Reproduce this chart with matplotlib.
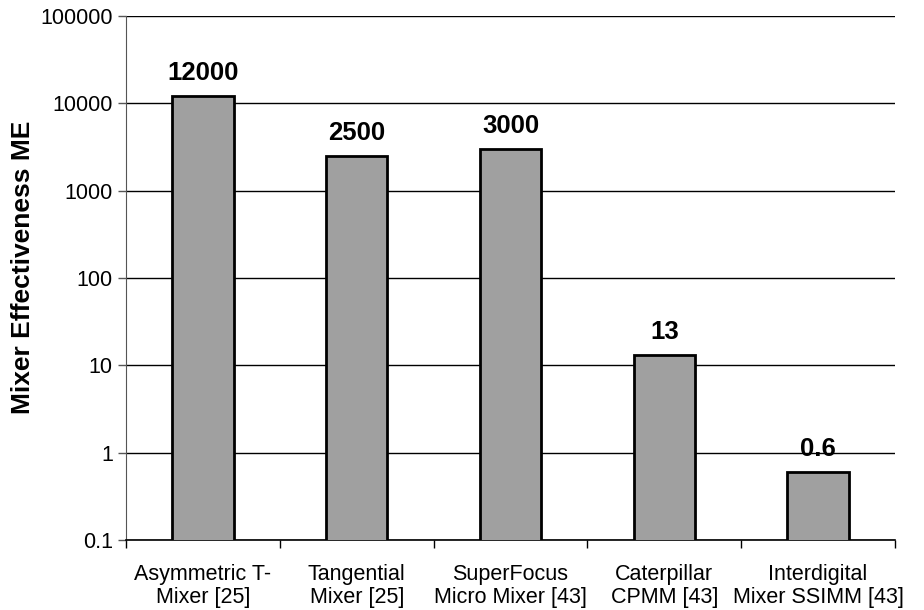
import numpy as np
import matplotlib
matplotlib.use("Agg")
import matplotlib.pyplot as plt

plt.rcParams["font.family"] = ["Liberation Sans", "DejaVu Sans"]

# mixer names and effectiveness values
mixers = [
    "Asymmetric T-\nMixer [25]",
    "Tangential\nMixer [25]",
    "SuperFocus\nMicro Mixer [43]",
    "Caterpillar\nCPMM [43]",
    "Interdigital\nMixer SSIMM [43]",
]
me_values = [12000, 2500, 3000, 13, 0.6]
value_labels = ["12000", "2500", "3000", "13", "0.6"]
y_ticks = [0.1, 1, 10, 100, 1000, 10000, 100000]
y_tick_labels = ["0.1", "1", "10", "100", "1000", "10000", "100000"]

fig = plt.figure(figsize=(9.24, 6.1), dpi=100)
ax = fig.add_axes([0.1364, 0.1148, 0.8322, 0.859])

x = np.arange(len(mixers))
ax.set_yscale("log")
bars = ax.bar(x, me_values, width=0.4, color="#a0a0a0",
              edgecolor="black", linewidth=2.0, zorder=3)
ax.set_ylim(0.1, 100000)
ax.set_xlim(-0.5, len(mixers) - 0.5)

# horizontal grid at each decade
ax.set_yticks(y_ticks)
ax.set_yticklabels(y_tick_labels)
ax.yaxis.set_minor_locator(matplotlib.ticker.NullLocator())
ax.grid(axis="y", color="black", linewidth=1.0, zorder=0)

# value labels above bars
for xi, v, lab in zip(x, me_values, value_labels):
    ax.annotate(lab, (xi, v), xytext=(0, 8), textcoords="offset points",
                ha="center", va="bottom", fontsize=18.5, fontweight="bold")

# category ticks sit between the bars
ax.set_xticks(x)
ax.set_xticklabels(mixers, fontsize=15.5, linespacing=1.15)
ax.tick_params(axis="x", length=0, pad=17)
ax.set_xticks(np.arange(len(mixers) + 1) - 0.5, minor=True)
ax.tick_params(axis="x", which="minor", length=6, width=1, color="black")
ax.tick_params(axis="y", length=6, width=1, labelsize=15.5, color="#555555")

for side in ["top", "right"]:
    ax.spines[side].set_visible(False)
ax.spines["left"].set_color("#555555")
ax.spines["bottom"].set_linewidth(1.2)

ax.set_ylabel("Mixer Effectiveness ME", fontsize=19, fontweight="bold")
ax.yaxis.set_label_coords(-0.118, 0.52)

fig.savefig("out.png", dpi=100)
